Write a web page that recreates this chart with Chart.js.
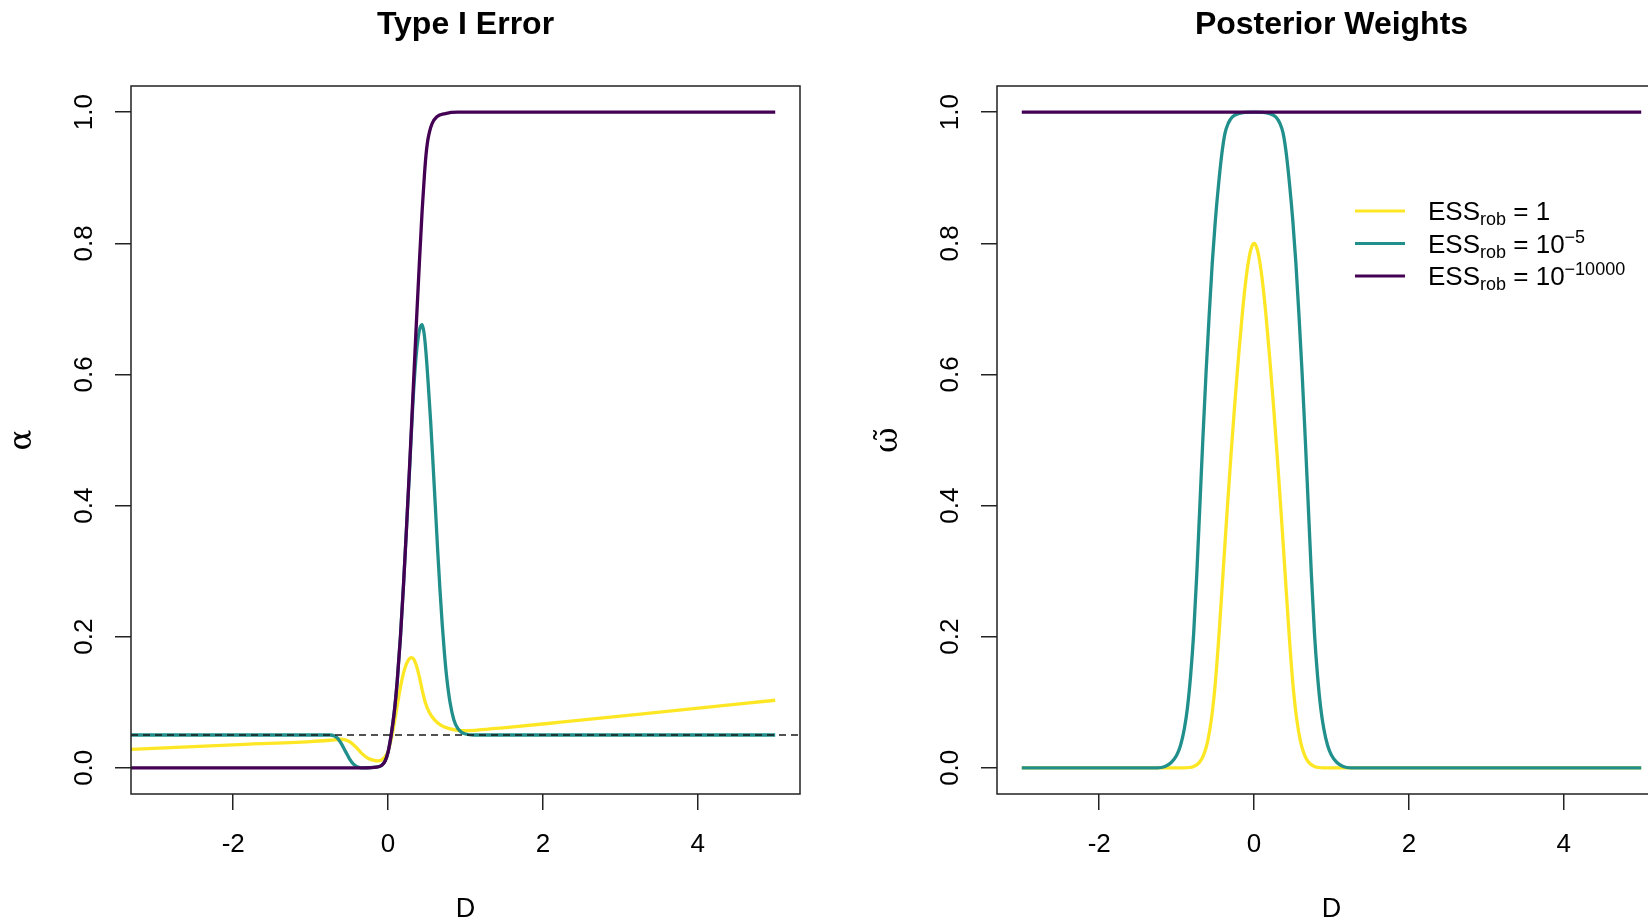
<!DOCTYPE html>
<html>
<head>
<meta charset="utf-8">
<script src="https://cdn.jsdelivr.net/npm/chart.js@4.4.1/dist/chart.umd.min.js"></script>
<style>
  html, body { margin: 0; padding: 0; background: #fff; overflow: hidden; }
  #wrap { position: relative; width: 1648px; height: 920px; overflow: hidden; background: #fff; }
  canvas { position: absolute; top: 0; }
  #typeI { left: 0; }
  #weights { left: 866px; }
</style>
</head>
<body>
<div id="wrap">
  <canvas id="typeI" width="931" height="920"></canvas>
  <canvas id="weights" width="931" height="920"></canvas>
</div>
<script>
// ---- axis ranges and ticks ----
const xMin = -3.32, xMax = 5.32;
const yMin = -0.04, yMax = 1.04;
const xTicks = [-2, 0, 2, 4];
const xTickLabels = ['-2', '0', '2', '4'];
const yTicks = [0, 0.2, 0.4, 0.6, 0.8, 1.0];
const yTickLabels = ['0.0', '0.2', '0.4', '0.6', '0.8', '1.0'];
const nominalAlpha = 0.05;

// ---- Type I error, alpha(D) ----
const alphaEss1D = [-3.32, -2, -1, -0.75, -0.6, -0.5, -0.42, -0.34, -0.26, -0.18, -0.12, -0.06, -0.02, 0.0, 0.03, 0.06, 0.1, 0.14, 0.18, 0.22, 0.26, 0.3, 0.33, 0.36, 0.4, 0.44, 0.48, 0.53, 0.6, 0.68, 0.78, 0.9, 1.0, 1.15, 1.45, 2.23, 3.6, 5.0];
const alphaEss1 = [0.028, 0.035, 0.040, 0.042, 0.0435, 0.040, 0.032, 0.022, 0.0145, 0.0112, 0.0105, 0.014, 0.020, 0.025, 0.038, 0.055, 0.082, 0.110, 0.135, 0.153, 0.164, 0.168, 0.166, 0.158, 0.141, 0.119, 0.100, 0.085, 0.073, 0.065, 0.060, 0.057, 0.0565, 0.0575, 0.0605, 0.0695, 0.086, 0.103];

const alphaEss1e5D = [-3.32, -0.75, -0.7, -0.65, -0.6, -0.55, -0.5, -0.45, -0.4, -0.35, -0.15, -0.08, -0.04, 0.0, 0.04, 0.08, 0.12, 0.16, 0.2, 0.24, 0.28, 0.32, 0.36, 0.39, 0.415, 0.44, 0.465, 0.49, 0.52, 0.55, 0.58, 0.61, 0.64, 0.67, 0.7, 0.73, 0.76, 0.8, 0.85, 0.9, 0.95, 1.0, 1.1, 5.0];
const alphaEss1e5 = [0.05, 0.05, 0.049, 0.045, 0.036, 0.025, 0.014, 0.006, 0.0015, 0.0, 0.001, 0.004, 0.010, 0.024, 0.050, 0.085, 0.135, 0.200, 0.280, 0.370, 0.460, 0.555, 0.625, 0.657, 0.672, 0.676, 0.663, 0.633, 0.583, 0.528, 0.465, 0.400, 0.333, 0.272, 0.218, 0.172, 0.135, 0.100, 0.073, 0.060, 0.054, 0.0515, 0.05, 0.05];

const alphaEss1e10000D = [-3.32, -0.3, -0.15, -0.08, -0.04, 0.0, 0.04, 0.08, 0.12, 0.16, 0.2, 0.24, 0.28, 0.32, 0.36, 0.4, 0.44, 0.47, 0.49, 0.51, 0.535, 0.57, 0.63, 0.74, 0.9, 5.0];
const alphaEss1e10000 = [0.0, 0.0, 0.001, 0.004, 0.010, 0.024, 0.050, 0.085, 0.135, 0.200, 0.280, 0.370, 0.465, 0.565, 0.665, 0.760, 0.850, 0.905, 0.935, 0.955, 0.970, 0.983, 0.993, 0.998, 1.0, 1.0];

// ---- Posterior weights, omega(D) ----
const weightEss1D = [-3, -0.9, -0.78, -0.7, -0.65, -0.6, -0.55, -0.5, -0.45, -0.4, -0.35, -0.3, -0.25, -0.2, -0.15, -0.1, -0.06, -0.03, 0, 0.03, 0.06, 0.1, 0.15, 0.2, 0.25, 0.3, 0.35, 0.4, 0.45, 0.5, 0.55, 0.6, 0.65, 0.7, 0.78, 0.9, 5];
const weightEss1 = [0, 0, 0.002, 0.009, 0.020, 0.040, 0.075, 0.130, 0.208, 0.298, 0.388, 0.474, 0.554, 0.628, 0.695, 0.750, 0.781, 0.795, 0.800, 0.795, 0.781, 0.750, 0.695, 0.628, 0.554, 0.474, 0.388, 0.298, 0.208, 0.130, 0.075, 0.040, 0.020, 0.009, 0.002, 0, 0];

const weightEss1e5D = [-3, -1.25, -1.15, -1.07, -1.0, -0.95, -0.9, -0.86, -0.82, -0.78, -0.74, -0.7, -0.66, -0.62, -0.58, -0.54, -0.5, -0.46, -0.418, -0.375, -0.33, -0.28, -0.2, 0, 0.2, 0.28, 0.33, 0.375, 0.418, 0.46, 0.5, 0.54, 0.58, 0.62, 0.66, 0.7, 0.74, 0.78, 0.82, 0.86, 0.9, 0.95, 1.0, 1.07, 1.15, 1.25, 5];
const weightEss1e5 = [0, 0, 0.002, 0.008, 0.019, 0.034, 0.060, 0.092, 0.140, 0.205, 0.295, 0.400, 0.505, 0.603, 0.690, 0.770, 0.835, 0.888, 0.935, 0.968, 0.984, 0.993, 0.998, 1.0, 0.998, 0.993, 0.984, 0.968, 0.935, 0.888, 0.835, 0.770, 0.690, 0.603, 0.505, 0.400, 0.295, 0.205, 0.140, 0.092, 0.060, 0.034, 0.019, 0.008, 0.002, 0, 0];

const weightEss1e10000D = [-3, 5];
const weightEss1e10000 = [1, 1];

// ---- colours (viridis) ----
const colEss1 = '#FDE725';
const colEss1e5 = '#21908C';
const colEss1e10000 = '#440154';

const toPoints = (xs, ys) => xs.map((x, i) => ({ x: x, y: ys[i] }));

const FONT = '"Liberation Sans", Arial, Helvetica, sans-serif';
const SYMBOL_FONT = '"DejaVu Serif", "Liberation Serif", serif';
Chart.defaults.font.family = FONT;
Chart.defaults.color = '#000';

// plot frame around the chart area
const framePlugin = {
  id: 'frame',
  afterDraw(chart) {
    const { left, top, right, bottom } = chart.chartArea;
    const ctx = chart.ctx;
    ctx.save();
    ctx.strokeStyle = '#222';
    ctx.lineWidth = 1.5;
    ctx.strokeRect(left, top, right - left, bottom - top);
    ctx.restore();
  }
};

// vertical tick labels on the y axis, read bottom to top
const yLabelPlugin = {
  id: 'yLabels',
  afterDraw(chart, args, opts) {
    const s = chart.scales.y;
    const ctx = chart.ctx;
    ctx.save();
    ctx.font = opts.size + 'px ' + FONT;
    ctx.fillStyle = '#000';
    ctx.textAlign = 'center';
    ctx.textBaseline = 'middle';
    yTicks.forEach((v, i) => {
      ctx.save();
      ctx.translate(opts.x, s.getPixelForValue(v));
      ctx.rotate(-Math.PI / 2);
      ctx.fillText(yTickLabels[i], 0, 0);
      ctx.restore();
    });
    ctx.restore();
  }
};

// legend with subscripts and superscripts
const legendRows = [
  { color: colEss1, parts: [['ESS', 'n'], ['rob', 'sub'], [' = 1', 'n']] },
  { color: colEss1e5, parts: [['ESS', 'n'], ['rob', 'sub'], [' = 10', 'n'], ['\u22125', 'sup']] },
  { color: colEss1e10000, parts: [['ESS', 'n'], ['rob', 'sub'], [' = 10', 'n'], ['\u221210000', 'sup']] }
];
const legendPlugin = {
  id: 'mathLegend',
  afterDraw(chart, args, opts) {
    if (!opts.show) return;
    const ctx = chart.ctx;
    ctx.save();
    legendRows.forEach((row, r) => {
      const ly = opts.y + r * opts.step;
      ctx.strokeStyle = row.color;
      ctx.lineWidth = 3;
      ctx.beginPath();
      ctx.moveTo(opts.lineX0, ly);
      ctx.lineTo(opts.lineX1, ly);
      ctx.stroke();
      let x = opts.textX;
      const base = ly + opts.baseShift;
      ctx.fillStyle = '#000';
      ctx.textAlign = 'left';
      ctx.textBaseline = 'alphabetic';
      row.parts.forEach(([txt, kind]) => {
        const size = kind === 'n' ? opts.size : opts.smallSize;
        const dy = kind === 'sub' ? opts.subShift : (kind === 'sup' ? -opts.supShift : 0);
        ctx.font = size + 'px ' + FONT;
        ctx.fillText(txt, x, base + dy);
        x += ctx.measureText(txt).width;
      });
    });
    ctx.restore();
  }
};

function lineSet(label, xs, ys, color, order) {
  return {
    label: label,
    data: toPoints(xs, ys),
    borderColor: color,
    backgroundColor: color,
    borderWidth: 3.3,
    pointRadius: 0,
    fill: false,
    cubicInterpolationMode: 'monotone',
    order: order
  };
}

function makeOptions(titleText, yTitle, legendOpts) {
  const gridOpts = {
    display: true, drawOnChartArea: false, drawTicks: true,
    tickLength: 16, color: '#222', lineWidth: 1.5
  };
  return {
    responsive: false,
    animation: false,
    devicePixelRatio: 1,
    layout: { padding: 0 },
    plugins: {
      legend: { display: false },
      tooltip: { enabled: false },
      title: {
        display: true, text: titleText, color: '#000',
        font: { family: FONT, size: 32, weight: 'bold' },
        padding: { top: 6, bottom: 41.6 }
      },
      yLabels: { x: 85, size: 26 },
      mathLegend: legendOpts
    },
    scales: {
      x: {
        type: 'linear', min: xMin, max: xMax,
        afterBuildTicks: s => { s.ticks = xTicks.map(v => ({ value: v })); },
        ticks: {
          autoSkip: false, maxRotation: 0, minRotation: 0, padding: 19,
          font: { size: 26 }, color: '#000',
          callback: (v, i) => xTickLabels[i]
        },
        grid: gridOpts,
        border: { display: false },
        title: { display: true, text: 'D', color: '#000', font: { size: 27 }, padding: { top: 0, bottom: -6 } },
        afterFit: s => { s.height = 126; }
      },
      y: {
        type: 'linear', position: 'left', min: yMin, max: yMax,
        afterBuildTicks: s => { s.ticks = yTicks.map(v => ({ value: v })); },
        ticks: { display: false },
        grid: gridOpts,
        border: { display: false },
        title: {
          display: true, text: yTitle, color: '#000',
          font: { family: SYMBOL_FONT, size: 31 },
          padding: { top: 4, bottom: 0 }
        },
        afterFit: s => { s.width = 131; }
      },
      rightMargin: {
        type: 'linear', position: 'right', display: true,
        grid: { display: false }, border: { display: false },
        ticks: { display: false },
        afterFit: s => { s.width = 131; }
      }
    }
  };
}

new Chart(document.getElementById('typeI'), {
  type: 'line',
  data: {
    datasets: [
      {
        label: 'alpha = 0.05',
        data: [{ x: xMin, y: nominalAlpha }, { x: xMax, y: nominalAlpha }],
        borderColor: '#1a1a1a', borderWidth: 1.7, borderDash: [7, 5],
        pointRadius: 0, fill: false, order: 0
      },
      lineSet('ESS_rob = 10^-10000', alphaEss1e10000D, alphaEss1e10000, colEss1e10000, 1),
      lineSet('ESS_rob = 10^-5', alphaEss1e5D, alphaEss1e5, colEss1e5, 2),
      lineSet('ESS_rob = 1', alphaEss1D, alphaEss1, colEss1, 3)
    ]
  },
  options: makeOptions('Type I Error', '\u03B1', { show: false }),
  plugins: [framePlugin, yLabelPlugin, legendPlugin]
});

new Chart(document.getElementById('weights'), {
  type: 'line',
  data: {
    datasets: [
      lineSet('ESS_rob = 10^-10000', weightEss1e10000D, weightEss1e10000, colEss1e10000, 1),
      lineSet('ESS_rob = 10^-5', weightEss1e5D, weightEss1e5, colEss1e5, 2),
      lineSet('ESS_rob = 1', weightEss1D, weightEss1, colEss1, 3)
    ]
  },
  options: makeOptions('Posterior Weights', '\u03C9\u0303', {
    show: true, y: 211, step: 32.5,
    lineX0: 489, lineX1: 539, textX: 562,
    baseShift: 9, size: 26, smallSize: 18, subShift: 5, supShift: 10
  }),
  plugins: [framePlugin, yLabelPlugin, legendPlugin]
});
</script>
</body>
</html>
